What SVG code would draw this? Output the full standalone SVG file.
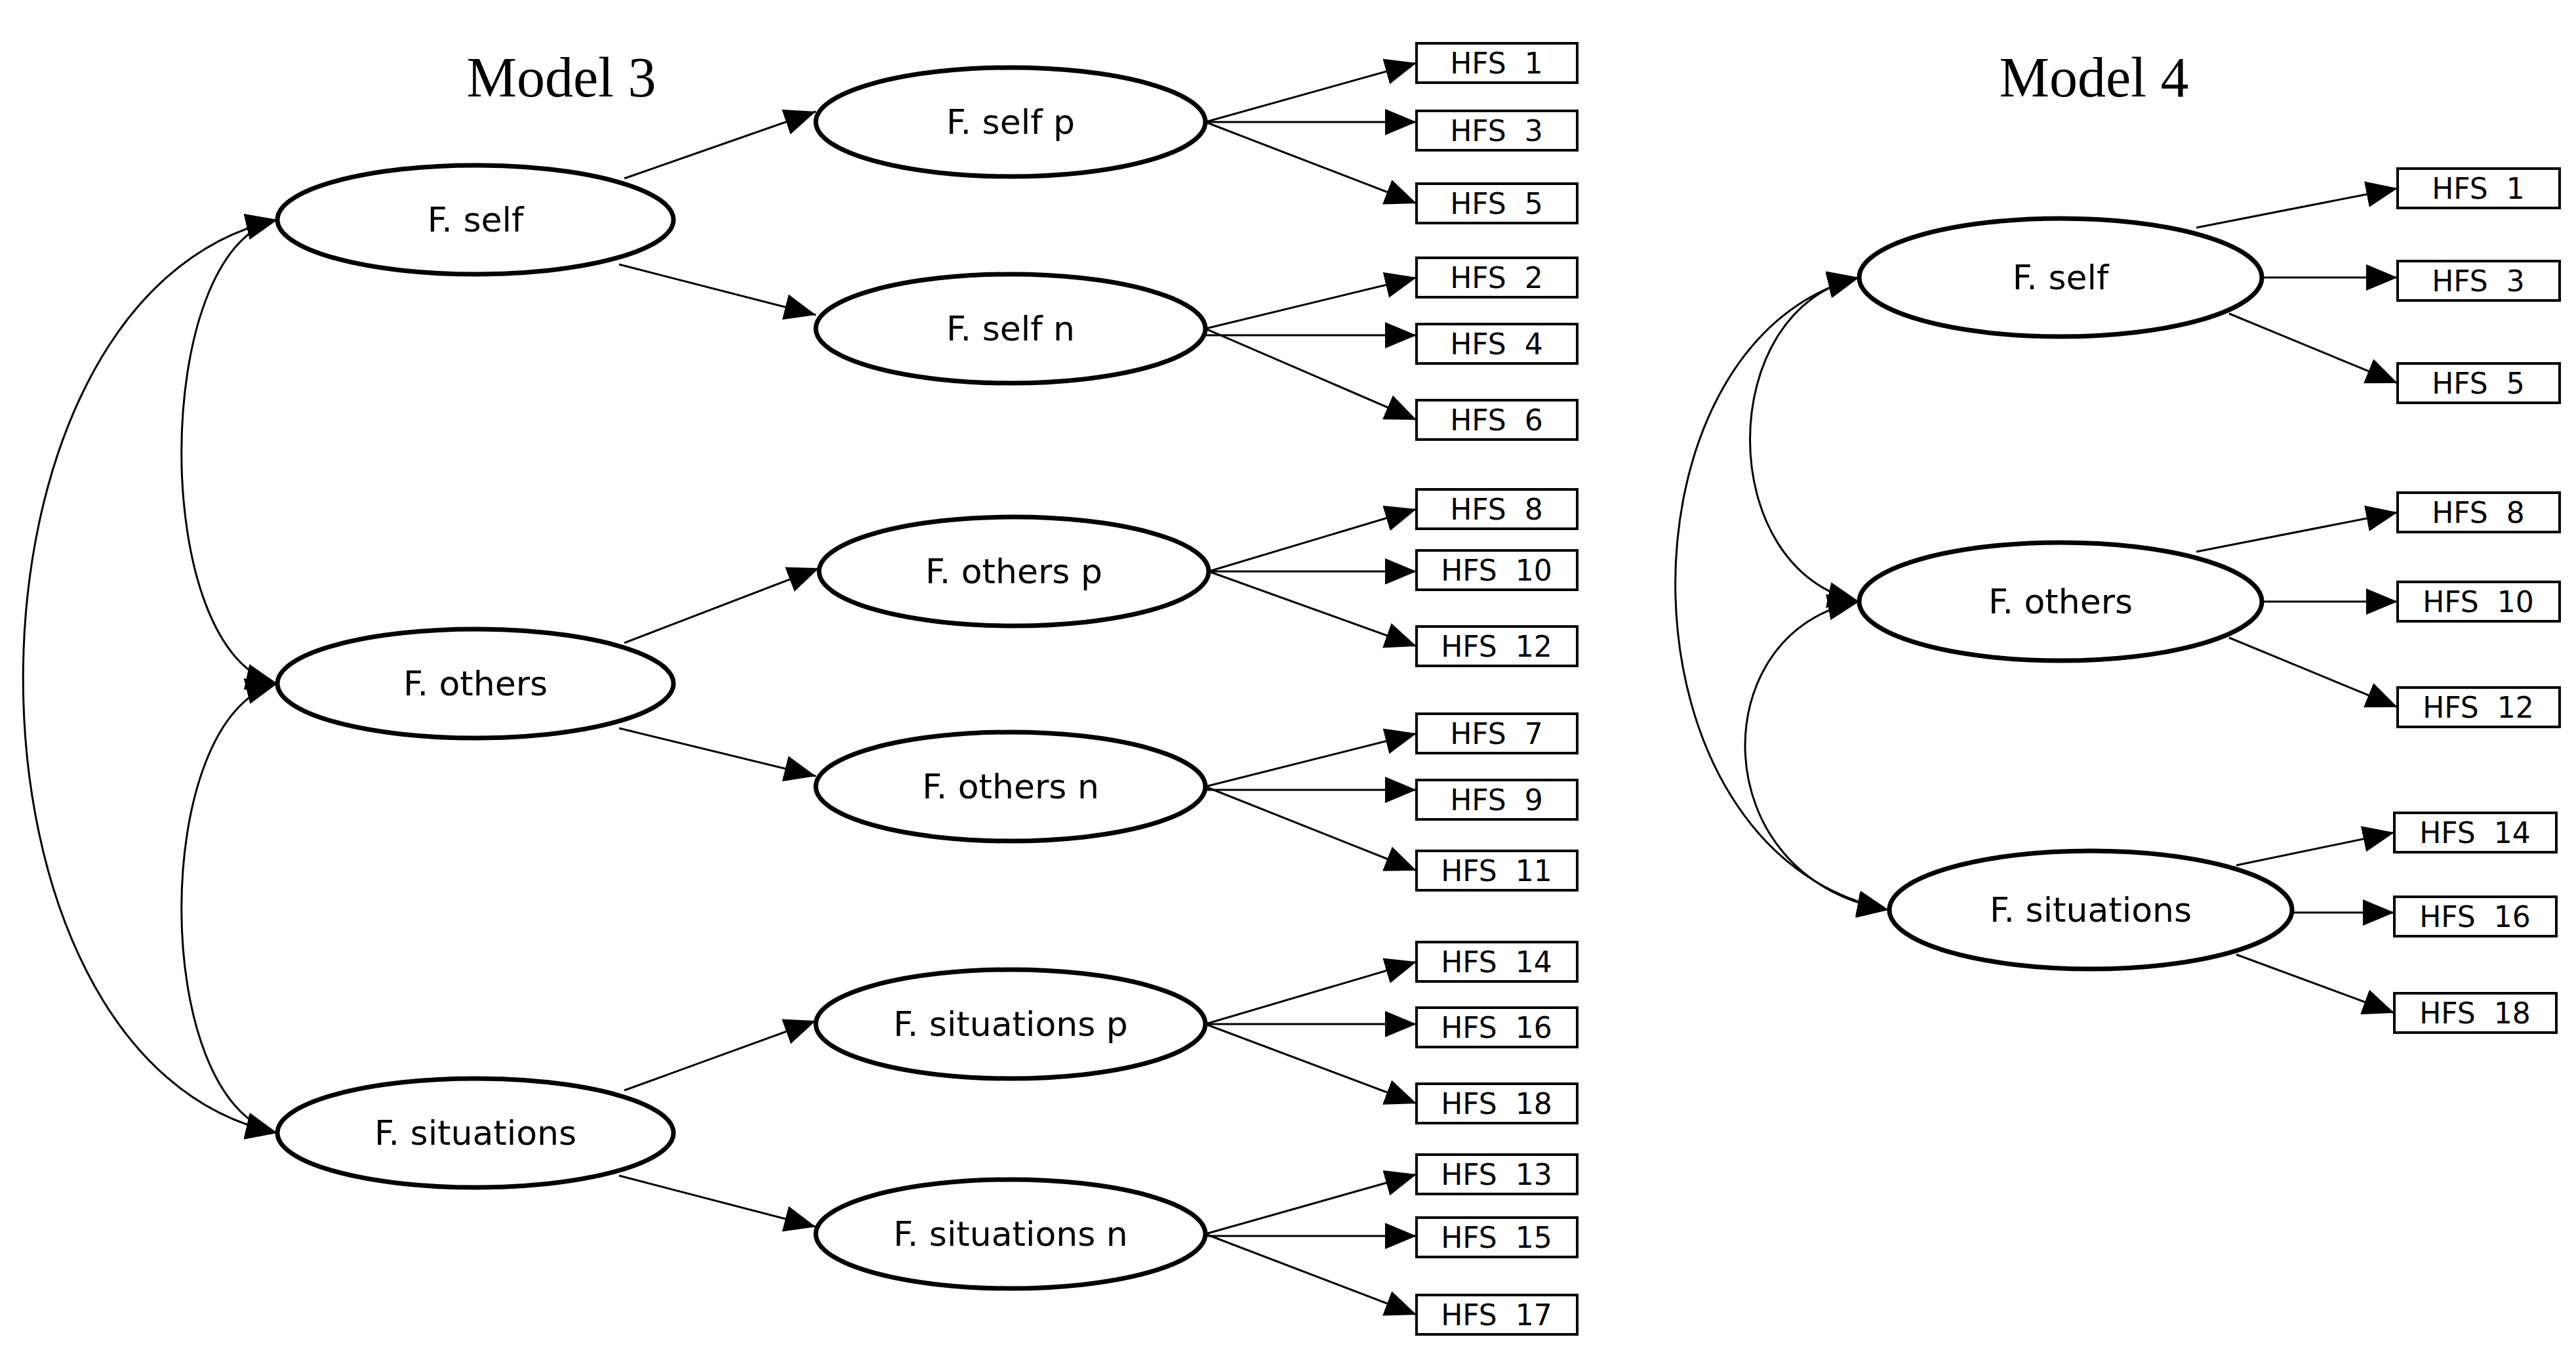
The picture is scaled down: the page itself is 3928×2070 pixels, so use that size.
<svg xmlns="http://www.w3.org/2000/svg" width="3928" height="2070" viewBox="0 0 3928 2070">
<style>
.e{fill:#fff;stroke:#000;stroke-width:7}
.b{fill:#fff;stroke:#000;stroke-width:4}
.t{font-family:"DejaVu Sans",Verdana,sans-serif;font-size:52px;text-anchor:middle;dominant-baseline:central}
.h{font-family:"DejaVu Sans",Verdana,sans-serif;font-size:44px;text-anchor:middle;dominant-baseline:central;white-space:pre}
.title{font-family:"Liberation Serif",serif;font-size:86px;text-anchor:middle}
.c line,.c path{stroke:#000;stroke-width:3;fill:none}
</style>
<defs>
<marker id="a" markerUnits="userSpaceOnUse" markerWidth="50" markerHeight="40" refX="48" refY="20" orient="auto-start-reverse"><path d="M0,0 L48,20 L0,40 Z" fill="#000"/></marker>
</defs>
<rect width="3928" height="2070" fill="#fff"/>
<text class="title" x="856" y="147">Model 3</text>
<text class="title" x="3193" y="147">Model 4</text>
<g class="c">
<path d="M423,335 C228,380 228,1000 423,1042" marker-start="url(#a)" marker-end="url(#a)"/>
<path d="M423,335 C-94,450 -94,1620 423,1727" marker-start="url(#a)" marker-end="url(#a)"/>
<path d="M423,1042 C228,1090 228,1680 423,1727" marker-start="url(#a)" marker-end="url(#a)"/>
<line x1="952" y1="272" x2="1244" y2="170" marker-end="url(#a)"/>
<line x1="944" y1="403" x2="1244" y2="480" marker-end="url(#a)"/>
<line x1="952" y1="980" x2="1249" y2="866" marker-end="url(#a)"/>
<line x1="944" y1="1110" x2="1244" y2="1183" marker-end="url(#a)"/>
<line x1="952" y1="1662" x2="1244" y2="1556" marker-end="url(#a)"/>
<line x1="944" y1="1792" x2="1244" y2="1870" marker-end="url(#a)"/>
<line x1="1838" y1="186" x2="2160" y2="96" marker-end="url(#a)"/>
<line x1="1838" y1="186" x2="2160" y2="186" marker-end="url(#a)"/>
<line x1="1838" y1="186" x2="2160" y2="310" marker-end="url(#a)"/>
<line x1="1838" y1="501" x2="2160" y2="423" marker-end="url(#a)"/>
<line x1="1838" y1="511" x2="2160" y2="511" marker-end="url(#a)"/>
<line x1="1838" y1="501" x2="2160" y2="640" marker-end="url(#a)"/>
<line x1="1843" y1="871" x2="2160" y2="776" marker-end="url(#a)"/>
<line x1="1843" y1="871" x2="2160" y2="871" marker-end="url(#a)"/>
<line x1="1843" y1="871" x2="2160" y2="985" marker-end="url(#a)"/>
<line x1="1838" y1="1199" x2="2160" y2="1118" marker-end="url(#a)"/>
<line x1="1838" y1="1204" x2="2160" y2="1204" marker-end="url(#a)"/>
<line x1="1838" y1="1199" x2="2160" y2="1327" marker-end="url(#a)"/>
<line x1="1838" y1="1561" x2="2160" y2="1466" marker-end="url(#a)"/>
<line x1="1838" y1="1561" x2="2160" y2="1561" marker-end="url(#a)"/>
<line x1="1838" y1="1561" x2="2160" y2="1682" marker-end="url(#a)"/>
<line x1="1838" y1="1881" x2="2160" y2="1790" marker-end="url(#a)"/>
<line x1="1838" y1="1884" x2="2160" y2="1884" marker-end="url(#a)"/>
<line x1="1838" y1="1881" x2="2160" y2="2004" marker-end="url(#a)"/>
<path d="M2835,423 C2613,470 2613,870 2835,917" marker-start="url(#a)" marker-end="url(#a)"/>
<path d="M2835,423 C2454,520 2454,1300 2880,1387" marker-start="url(#a)" marker-end="url(#a)"/>
<path d="M2835,917 C2596,960 2596,1340 2880,1387" marker-start="url(#a)" marker-end="url(#a)"/>
<line x1="3349" y1="347" x2="3656" y2="287" marker-end="url(#a)"/>
<line x1="3449" y1="423" x2="3656" y2="423" marker-end="url(#a)"/>
<line x1="3399" y1="478" x2="3656" y2="584" marker-end="url(#a)"/>
<line x1="3349" y1="841" x2="3656" y2="781" marker-end="url(#a)"/>
<line x1="3449" y1="917" x2="3656" y2="917" marker-end="url(#a)"/>
<line x1="3399" y1="972" x2="3656" y2="1078" marker-end="url(#a)"/>
<line x1="3410" y1="1319" x2="3651" y2="1269" marker-end="url(#a)"/>
<line x1="3495" y1="1391" x2="3651" y2="1391" marker-end="url(#a)"/>
<line x1="3410" y1="1455" x2="3651" y2="1544" marker-end="url(#a)"/>
</g>
<g id="m3-self"><ellipse class="e" cx="725" cy="335" rx="302" ry="83"/><text class="t" x="725" y="335">F. self</text></g>
<g id="m3-others"><ellipse class="e" cx="725" cy="1042" rx="302" ry="83"/><text class="t" x="725" y="1042">F. others</text></g>
<g id="m3-situations"><ellipse class="e" cx="725" cy="1727" rx="302" ry="83"/><text class="t" x="725" y="1727">F. situations</text></g>
<g id="m3-selfp"><ellipse class="e" cx="1541" cy="186" rx="297" ry="83"/><text class="t" x="1541" y="186">F. self p</text></g>
<g id="m3-selfn"><ellipse class="e" cx="1541" cy="501" rx="297" ry="83"/><text class="t" x="1541" y="501">F. self n</text></g>
<g id="m3-othersp"><ellipse class="e" cx="1546" cy="871" rx="297" ry="83"/><text class="t" x="1546" y="871">F. others p</text></g>
<g id="m3-othersn"><ellipse class="e" cx="1541" cy="1199" rx="297" ry="83"/><text class="t" x="1541" y="1199">F. others n</text></g>
<g id="m3-situationsp"><ellipse class="e" cx="1541" cy="1561" rx="297" ry="83"/><text class="t" x="1541" y="1561">F. situations p</text></g>
<g id="m3-situationsn"><ellipse class="e" cx="1541" cy="1881" rx="297" ry="83"/><text class="t" x="1541" y="1881">F. situations n</text></g>
<g id="m3-hfs1"><rect class="b" x="2160" y="66" width="245" height="60"/><text class="h" x="2282" y="96">HFS  1</text></g>
<g id="m3-hfs3"><rect class="b" x="2160" y="169" width="245" height="60"/><text class="h" x="2282" y="199">HFS  3</text></g>
<g id="m3-hfs5"><rect class="b" x="2160" y="280" width="245" height="60"/><text class="h" x="2282" y="310">HFS  5</text></g>
<g id="m3-hfs2"><rect class="b" x="2160" y="393" width="245" height="60"/><text class="h" x="2282" y="423">HFS  2</text></g>
<g id="m3-hfs4"><rect class="b" x="2160" y="494" width="245" height="60"/><text class="h" x="2282" y="524">HFS  4</text></g>
<g id="m3-hfs6"><rect class="b" x="2160" y="610" width="245" height="60"/><text class="h" x="2282" y="640">HFS  6</text></g>
<g id="m3-hfs8"><rect class="b" x="2160" y="746" width="245" height="60"/><text class="h" x="2282" y="776">HFS  8</text></g>
<g id="m3-hfs10"><rect class="b" x="2160" y="839" width="245" height="60"/><text class="h" x="2282" y="869">HFS  10</text></g>
<g id="m3-hfs12"><rect class="b" x="2160" y="955" width="245" height="60"/><text class="h" x="2282" y="985">HFS  12</text></g>
<g id="m3-hfs7"><rect class="b" x="2160" y="1088" width="245" height="60"/><text class="h" x="2282" y="1118">HFS  7</text></g>
<g id="m3-hfs9"><rect class="b" x="2160" y="1189" width="245" height="60"/><text class="h" x="2282" y="1219">HFS  9</text></g>
<g id="m3-hfs11"><rect class="b" x="2160" y="1297" width="245" height="60"/><text class="h" x="2282" y="1327">HFS  11</text></g>
<g id="m3-hfs14"><rect class="b" x="2160" y="1436" width="245" height="60"/><text class="h" x="2282" y="1466">HFS  14</text></g>
<g id="m3-hfs16"><rect class="b" x="2160" y="1536" width="245" height="60"/><text class="h" x="2282" y="1566">HFS  16</text></g>
<g id="m3-hfs18"><rect class="b" x="2160" y="1652" width="245" height="60"/><text class="h" x="2282" y="1682">HFS  18</text></g>
<g id="m3-hfs13"><rect class="b" x="2160" y="1760" width="245" height="60"/><text class="h" x="2282" y="1790">HFS  13</text></g>
<g id="m3-hfs15"><rect class="b" x="2160" y="1856" width="245" height="60"/><text class="h" x="2282" y="1886">HFS  15</text></g>
<g id="m3-hfs17"><rect class="b" x="2160" y="1974" width="245" height="60"/><text class="h" x="2282" y="2004">HFS  17</text></g>
<g id="m4-self"><ellipse class="e" cx="3142" cy="423" rx="307" ry="90"/><text class="t" x="3142" y="423">F. self</text></g>
<g id="m4-others"><ellipse class="e" cx="3142" cy="917" rx="307" ry="90"/><text class="t" x="3142" y="917">F. others</text></g>
<g id="m4-situations"><ellipse class="e" cx="3188" cy="1387" rx="307" ry="90"/><text class="t" x="3188" y="1387">F. situations</text></g>
<g id="m4-hfs1"><rect class="b" x="3656" y="257" width="247" height="60"/><text class="h" x="3779" y="287">HFS  1</text></g>
<g id="m4-hfs3"><rect class="b" x="3656" y="398" width="247" height="60"/><text class="h" x="3779" y="428">HFS  3</text></g>
<g id="m4-hfs5"><rect class="b" x="3656" y="554" width="247" height="60"/><text class="h" x="3779" y="584">HFS  5</text></g>
<g id="m4-hfs8"><rect class="b" x="3656" y="751" width="247" height="60"/><text class="h" x="3779" y="781">HFS  8</text></g>
<g id="m4-hfs10"><rect class="b" x="3656" y="887" width="247" height="60"/><text class="h" x="3779" y="917">HFS  10</text></g>
<g id="m4-hfs12"><rect class="b" x="3656" y="1048" width="247" height="60"/><text class="h" x="3779" y="1078">HFS  12</text></g>
<g id="m4-hfs14"><rect class="b" x="3651" y="1239" width="247" height="60"/><text class="h" x="3774" y="1269">HFS  14</text></g>
<g id="m4-hfs16"><rect class="b" x="3651" y="1367" width="247" height="60"/><text class="h" x="3774" y="1397">HFS  16</text></g>
<g id="m4-hfs18"><rect class="b" x="3651" y="1514" width="247" height="60"/><text class="h" x="3774" y="1544">HFS  18</text></g>
</svg>
